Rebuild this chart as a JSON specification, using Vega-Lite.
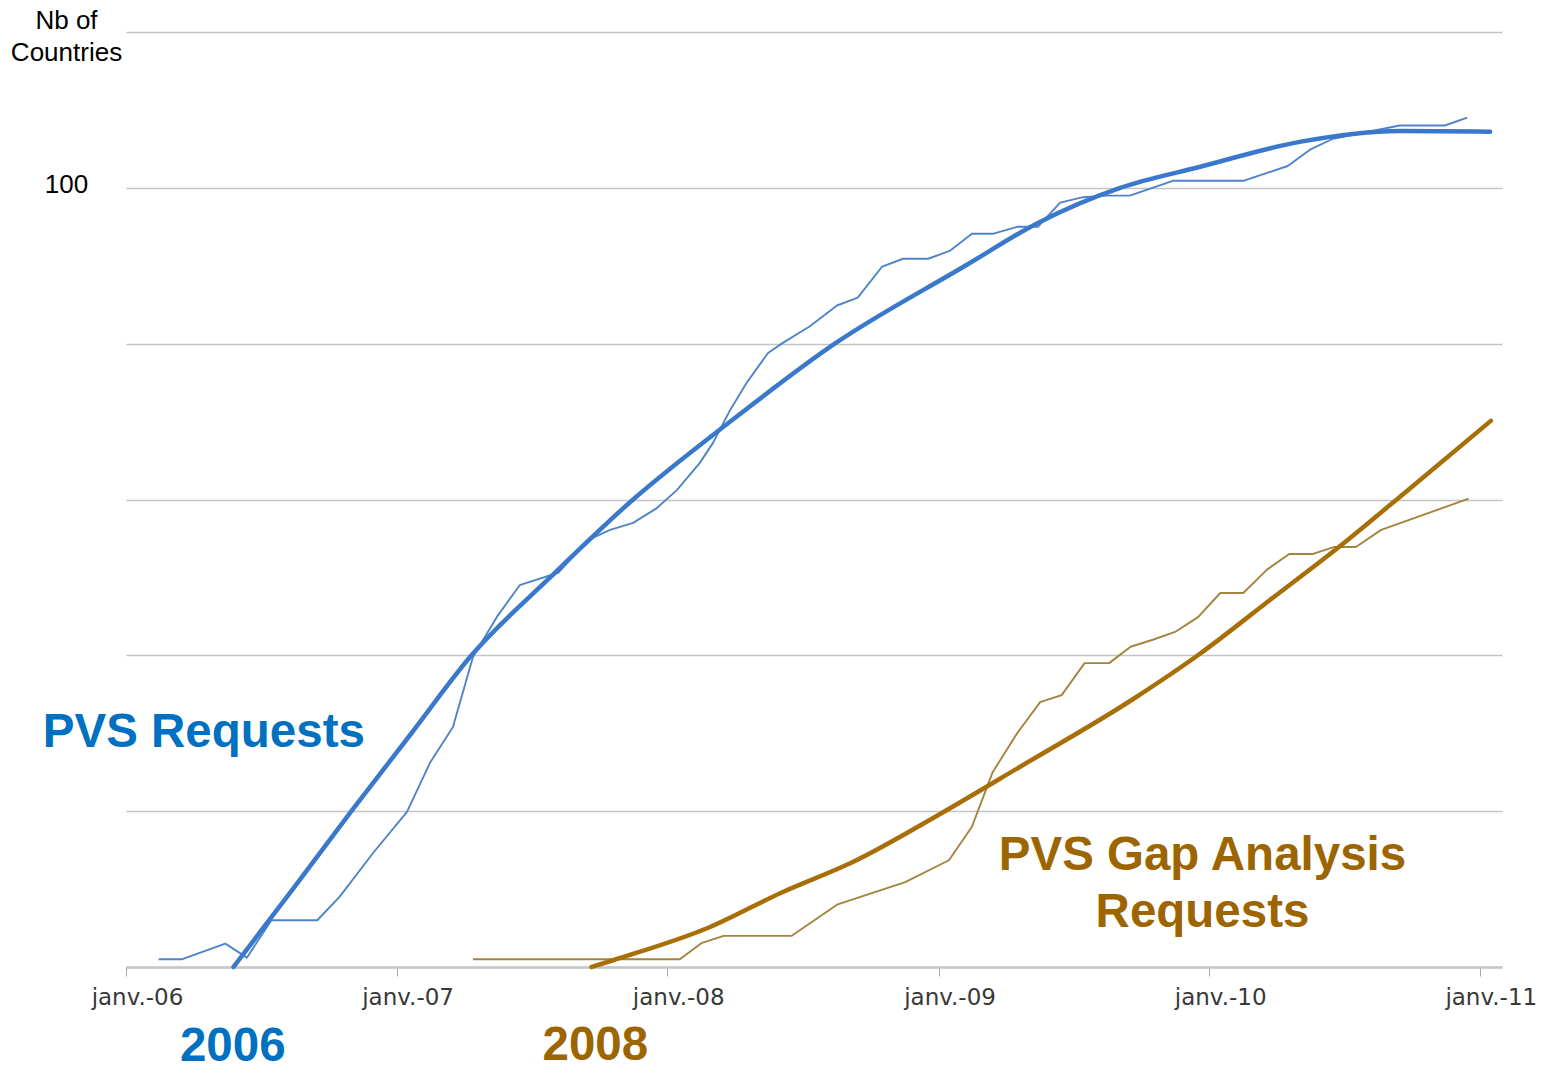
{
  "$schema": "https://vega.github.io/schema/vega-lite/v6.json",
  "width": 1376,
  "height": 935,
  "autosize": {"type": "none"},
  "padding": {"left": 126, "top": 32, "right": 43, "bottom": 107},
  "background": "white",
  "config": {"view": {"stroke": null}},
  "datasets": {
    "series": [
      {"kind": "actual", "series": "PVS Requests", "date": "2006-02-14", "value": 1},
      {"kind": "actual", "series": "PVS Requests", "date": "2006-03-18", "value": 1},
      {"kind": "actual", "series": "PVS Requests", "date": "2006-05-15", "value": 3},
      {"kind": "actual", "series": "PVS Requests", "date": "2006-06-13", "value": 1.2},
      {"kind": "actual", "series": "PVS Requests", "date": "2006-07-16", "value": 6},
      {"kind": "actual", "series": "PVS Requests", "date": "2006-09-16", "value": 6},
      {"kind": "actual", "series": "PVS Requests", "date": "2006-10-16", "value": 9},
      {"kind": "actual", "series": "PVS Requests", "date": "2006-11-30", "value": 14.6},
      {"kind": "actual", "series": "PVS Requests", "date": "2007-01-15", "value": 19.9},
      {"kind": "actual", "series": "PVS Requests", "date": "2007-02-15", "value": 26.2},
      {"kind": "actual", "series": "PVS Requests", "date": "2007-03-18", "value": 30.8},
      {"kind": "actual", "series": "PVS Requests", "date": "2007-04-14", "value": 39.8},
      {"kind": "actual", "series": "PVS Requests", "date": "2007-05-16", "value": 44.9},
      {"kind": "actual", "series": "PVS Requests", "date": "2007-06-16", "value": 49.0},
      {"kind": "actual", "series": "PVS Requests", "date": "2007-08-07", "value": 50.6},
      {"kind": "actual", "series": "PVS Requests", "date": "2007-09-16", "value": 54.8},
      {"kind": "actual", "series": "PVS Requests", "date": "2007-10-16", "value": 56.1},
      {"kind": "actual", "series": "PVS Requests", "date": "2007-11-16", "value": 57.0},
      {"kind": "actual", "series": "PVS Requests", "date": "2007-12-18", "value": 58.9},
      {"kind": "actual", "series": "PVS Requests", "date": "2008-01-14", "value": 61.2},
      {"kind": "actual", "series": "PVS Requests", "date": "2008-02-14", "value": 64.7},
      {"kind": "actual", "series": "PVS Requests", "date": "2008-03-03", "value": 67.3},
      {"kind": "actual", "series": "PVS Requests", "date": "2008-03-26", "value": 71.5},
      {"kind": "actual", "series": "PVS Requests", "date": "2008-04-18", "value": 75.1},
      {"kind": "actual", "series": "PVS Requests", "date": "2008-05-16", "value": 78.8},
      {"kind": "actual", "series": "PVS Requests", "date": "2008-06-05", "value": 80.1},
      {"kind": "actual", "series": "PVS Requests", "date": "2008-07-11", "value": 82.2},
      {"kind": "actual", "series": "PVS Requests", "date": "2008-08-17", "value": 84.9},
      {"kind": "actual", "series": "PVS Requests", "date": "2008-09-14", "value": 85.9},
      {"kind": "actual", "series": "PVS Requests", "date": "2008-10-17", "value": 89.9},
      {"kind": "actual", "series": "PVS Requests", "date": "2008-11-14", "value": 90.9},
      {"kind": "actual", "series": "PVS Requests", "date": "2008-12-18", "value": 90.9},
      {"kind": "actual", "series": "PVS Requests", "date": "2009-01-16", "value": 91.9},
      {"kind": "actual", "series": "PVS Requests", "date": "2009-02-15", "value": 94.1},
      {"kind": "actual", "series": "PVS Requests", "date": "2009-03-15", "value": 94.1},
      {"kind": "actual", "series": "PVS Requests", "date": "2009-04-17", "value": 95.0},
      {"kind": "actual", "series": "PVS Requests", "date": "2009-05-15", "value": 95.0},
      {"kind": "actual", "series": "PVS Requests", "date": "2009-06-14", "value": 98.1},
      {"kind": "actual", "series": "PVS Requests", "date": "2009-07-15", "value": 98.8},
      {"kind": "actual", "series": "PVS Requests", "date": "2009-08-16", "value": 99.0},
      {"kind": "actual", "series": "PVS Requests", "date": "2009-09-16", "value": 99.0},
      {"kind": "actual", "series": "PVS Requests", "date": "2009-11-13", "value": 100.9},
      {"kind": "actual", "series": "PVS Requests", "date": "2010-02-16", "value": 100.9},
      {"kind": "actual", "series": "PVS Requests", "date": "2010-04-17", "value": 102.8},
      {"kind": "actual", "series": "PVS Requests", "date": "2010-05-17", "value": 104.9},
      {"kind": "actual", "series": "PVS Requests", "date": "2010-06-17", "value": 106.3},
      {"kind": "actual", "series": "PVS Requests", "date": "2010-09-15", "value": 108.0},
      {"kind": "actual", "series": "PVS Requests", "date": "2010-11-15", "value": 108.0},
      {"kind": "actual", "series": "PVS Requests", "date": "2010-12-15", "value": 109.0},

      {"kind": "actual", "series": "PVS Gap Analysis Requests", "date": "2007-04-14", "value": 1},
      {"kind": "actual", "series": "PVS Gap Analysis Requests", "date": "2008-01-18", "value": 1},
      {"kind": "actual", "series": "PVS Gap Analysis Requests", "date": "2008-02-17", "value": 3.1},
      {"kind": "actual", "series": "PVS Gap Analysis Requests", "date": "2008-03-17", "value": 4},
      {"kind": "actual", "series": "PVS Gap Analysis Requests", "date": "2008-06-17", "value": 4},
      {"kind": "actual", "series": "PVS Gap Analysis Requests", "date": "2008-08-17", "value": 8},
      {"kind": "actual", "series": "PVS Gap Analysis Requests", "date": "2008-11-17", "value": 10.9},
      {"kind": "actual", "series": "PVS Gap Analysis Requests", "date": "2009-01-15", "value": 13.7},
      {"kind": "actual", "series": "PVS Gap Analysis Requests", "date": "2009-02-15", "value": 18},
      {"kind": "actual", "series": "PVS Gap Analysis Requests", "date": "2009-03-15", "value": 25},
      {"kind": "actual", "series": "PVS Gap Analysis Requests", "date": "2009-04-17", "value": 30},
      {"kind": "actual", "series": "PVS Gap Analysis Requests", "date": "2009-05-18", "value": 34},
      {"kind": "actual", "series": "PVS Gap Analysis Requests", "date": "2009-06-16", "value": 34.9},
      {"kind": "actual", "series": "PVS Gap Analysis Requests", "date": "2009-07-17", "value": 39},
      {"kind": "actual", "series": "PVS Gap Analysis Requests", "date": "2009-08-19", "value": 39},
      {"kind": "actual", "series": "PVS Gap Analysis Requests", "date": "2009-09-17", "value": 41.1},
      {"kind": "actual", "series": "PVS Gap Analysis Requests", "date": "2009-10-17", "value": 42},
      {"kind": "actual", "series": "PVS Gap Analysis Requests", "date": "2009-11-16", "value": 43},
      {"kind": "actual", "series": "PVS Gap Analysis Requests", "date": "2009-12-17", "value": 44.9},
      {"kind": "actual", "series": "PVS Gap Analysis Requests", "date": "2010-01-16", "value": 48},
      {"kind": "actual", "series": "PVS Gap Analysis Requests", "date": "2010-02-16", "value": 48},
      {"kind": "actual", "series": "PVS Gap Analysis Requests", "date": "2010-03-20", "value": 51},
      {"kind": "actual", "series": "PVS Gap Analysis Requests", "date": "2010-04-19", "value": 53},
      {"kind": "actual", "series": "PVS Gap Analysis Requests", "date": "2010-05-20", "value": 53},
      {"kind": "actual", "series": "PVS Gap Analysis Requests", "date": "2010-06-18", "value": 53.9},
      {"kind": "actual", "series": "PVS Gap Analysis Requests", "date": "2010-07-18", "value": 53.9},
      {"kind": "actual", "series": "PVS Gap Analysis Requests", "date": "2010-08-21", "value": 56.1},
      {"kind": "actual", "series": "PVS Gap Analysis Requests", "date": "2010-12-17", "value": 60.1},

      {"kind": "trend", "series": "PVS Requests", "date": "2006-05-26", "value": 0},
      {"kind": "trend", "series": "PVS Requests", "date": "2006-08-14", "value": 10},
      {"kind": "trend", "series": "PVS Requests", "date": "2006-11-01", "value": 20},
      {"kind": "trend", "series": "PVS Requests", "date": "2007-01-21", "value": 30},
      {"kind": "trend", "series": "PVS Requests", "date": "2007-04-12", "value": 40},
      {"kind": "trend", "series": "PVS Requests", "date": "2007-07-27", "value": 50},
      {"kind": "trend", "series": "PVS Requests", "date": "2007-11-16", "value": 60},
      {"kind": "trend", "series": "PVS Requests", "date": "2008-03-26", "value": 70},
      {"kind": "trend", "series": "PVS Requests", "date": "2008-08-14", "value": 80},
      {"kind": "trend", "series": "PVS Requests", "date": "2009-02-06", "value": 90},
      {"kind": "trend", "series": "PVS Requests", "date": "2009-05-15", "value": 95.5},
      {"kind": "trend", "series": "PVS Requests", "date": "2009-09-03", "value": 100},
      {"kind": "trend", "series": "PVS Requests", "date": "2009-12-20", "value": 102.7},
      {"kind": "trend", "series": "PVS Requests", "date": "2010-05-03", "value": 105.9},
      {"kind": "trend", "series": "PVS Requests", "date": "2010-09-15", "value": 107.3},
      {"kind": "trend", "series": "PVS Requests", "date": "2011-01-15", "value": 107.2},

      {"kind": "trend", "series": "PVS Gap Analysis Requests", "date": "2007-09-21", "value": 0},
      {"kind": "trend", "series": "PVS Gap Analysis Requests", "date": "2007-10-21", "value": 0.9},
      {"kind": "trend", "series": "PVS Gap Analysis Requests", "date": "2008-02-27", "value": 5.1},
      {"kind": "trend", "series": "PVS Gap Analysis Requests", "date": "2008-06-02", "value": 9.5},
      {"kind": "trend", "series": "PVS Gap Analysis Requests", "date": "2008-09-08", "value": 13.5},
      {"kind": "trend", "series": "PVS Gap Analysis Requests", "date": "2009-01-06", "value": 19.8},
      {"kind": "trend", "series": "PVS Gap Analysis Requests", "date": "2009-04-21", "value": 25.7},
      {"kind": "trend", "series": "PVS Gap Analysis Requests", "date": "2009-09-19", "value": 34.3},
      {"kind": "trend", "series": "PVS Gap Analysis Requests", "date": "2009-12-21", "value": 40.3},
      {"kind": "trend", "series": "PVS Gap Analysis Requests", "date": "2010-03-24", "value": 47.1},
      {"kind": "trend", "series": "PVS Gap Analysis Requests", "date": "2010-06-25", "value": 53.9},
      {"kind": "trend", "series": "PVS Gap Analysis Requests", "date": "2010-09-26", "value": 61.2},
      {"kind": "trend", "series": "PVS Gap Analysis Requests", "date": "2011-01-16", "value": 70.1}
    ],
    "labels": [
      {"label": "PVS Requests", "group": "PVS Requests", "date": "2006-04-16", "value": 30.0},
      {"label": "2006", "group": "PVS Requests", "date": "2006-05-25", "value": -10.3},
      {"label": "2008", "group": "PVS Gap Analysis Requests", "date": "2007-09-26", "value": -10.2},
      {"label": "PVS Gap Analysis", "group": "PVS Gap Analysis Requests", "date": "2009-12-23", "value": 14.2},
      {"label": "Requests", "group": "PVS Gap Analysis Requests", "date": "2009-12-23", "value": 6.9}
    ]
  },
  "data": {"name": "series"},
  "encoding": {
    "x": {
      "field": "date",
      "type": "temporal",
      "scale": {
        "type": "utc",
        "domain": [
          {"year": 2006, "month": 1, "date": 1, "utc": true},
          {"year": 2011, "month": 1, "date": 31, "utc": true}
        ]
      },
      "axis": {
        "title": null,
        "grid": false,
        "values": [
          {"year": 2006, "month": 1, "date": 1, "utc": true},
          {"year": 2007, "month": 1, "date": 1, "utc": true},
          {"year": 2008, "month": 1, "date": 1, "utc": true},
          {"year": 2009, "month": 1, "date": 1, "utc": true},
          {"year": 2010, "month": 1, "date": 1, "utc": true},
          {"year": 2011, "month": 1, "date": 1, "utc": true}
        ],
        "labelExpr": "'janv.-' + utcFormat(datum.value, '%y')",
        "labelFont": "DejaVu Sans",
        "labelFontSize": 23,
        "labelColor": "#383838",
        "labelPadding": 10,
        "labelOffset": 11,
        "labelOverlap": false,
        "labelFlush": false,
        "domainColor": "#c6c6c6",
        "domainWidth": 2.5,
        "tickColor": "#a8a8a8",
        "tickSize": 9,
        "tickWidth": 1
      }
    },
    "y": {
      "field": "value",
      "type": "quantitative",
      "scale": {"domain": [0, 120], "nice": false, "zero": false},
      "axis": {
        "title": null,
        "values": [0, 20, 40, 60, 80, 100, 120],
        "labelExpr": "datum.value == 120 ? ['Nb of', 'Countries'] : (datum.value == 100 ? '100' : '')",
        "labelFont": "Liberation Sans",
        "labelFontSize": 26,
        "labelColor": "#000000",
        "labelAlign": "center",
        "labelBaseline": "middle",
        "labelLineHeight": 32,
        "labelPadding": 60,
        "labelOffset": {"condition": {"test": "datum.value == 120", "value": -12}, "value": -3},
        "labelOverlap": false,
        "labelFlush": false,
        "domain": false,
        "ticks": false,
        "grid": true,
        "gridColor": "#c4c4c4",
        "gridWidth": 1.6
      }
    }
  },
  "layer": [
    {
      "transform": [{"filter": "datum.kind == 'actual'"}],
      "mark": {"type": "line", "strokeWidth": 1.9, "strokeJoin": "round"},
      "encoding": {
        "detail": {"field": "series"},
        "color": {
          "field": "series",
          "type": "nominal",
          "scale": {"domain": ["PVS Requests", "PVS Gap Analysis Requests"], "range": ["#4f84c9", "#a3843e"]},
          "legend": null
        }
      }
    },
    {
      "transform": [{"filter": "datum.kind == 'trend'"}],
      "mark": {"type": "line", "strokeWidth": 4.5, "strokeCap": "round", "interpolate": "monotone"},
      "encoding": {
        "detail": {"field": "series"},
        "color": {
          "field": "series",
          "type": "nominal",
          "scale": {"domain": ["PVS Requests", "PVS Gap Analysis Requests"], "range": ["#3a78cc", "#a86f08"]},
          "legend": null
        }
      }
    },
    {
      "data": {"name": "labels"},
      "mark": {"type": "text", "font": "Liberation Sans", "fontWeight": "bold", "fontSize": 47.5, "align": "center", "baseline": "middle"},
      "encoding": {
        "text": {"field": "label"},
        "color": {
          "field": "group",
          "type": "nominal",
          "scale": {"domain": ["PVS Requests", "PVS Gap Analysis Requests"], "range": ["#0070c0", "#9c6500"]},
          "legend": null
        }
      }
    }
  ],
  "resolve": {"scale": {"color": "independent"}}
}
